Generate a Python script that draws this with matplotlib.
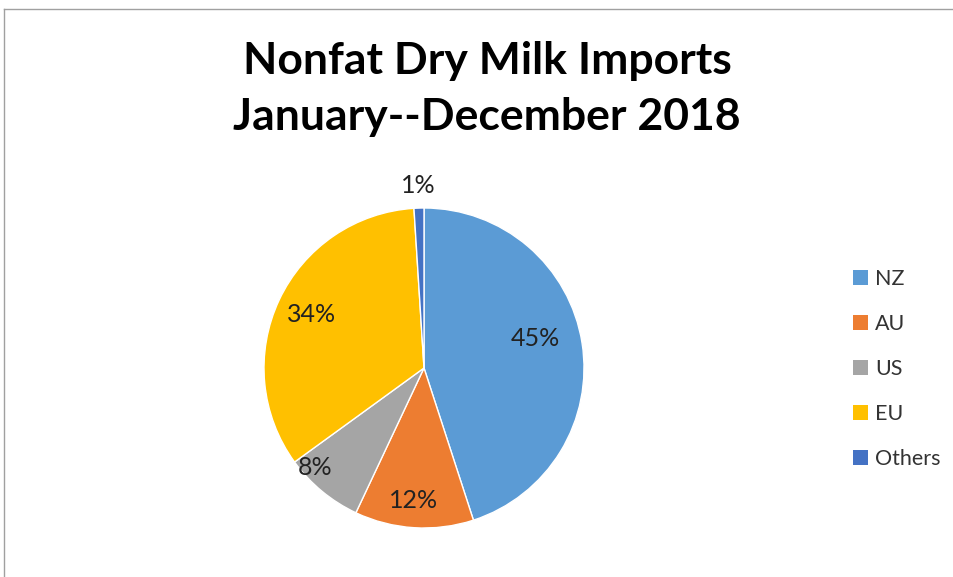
import numpy as np
import matplotlib.pyplot as plt
from matplotlib.patches import Patch
from matplotlib.lines import Line2D

regions = ["NZ", "AU", "US", "EU", "Others"]
shares = [45, 12, 8, 34, 1]
colors = ["#5B9BD5", "#ED7D31", "#A5A5A5", "#FFC000", "#4472C4"]
# percent label placement: fraction of radius, and nudge (deg) off the wedge middle
label_dist = [0.72, 0.83, 0.92, 0.78, 1.14]
label_turn = [6, -1, -8, 0, 0]

W, H = 954, 577
fig = plt.figure(figsize=(W / 100, H / 100), dpi=100)
fig.patch.set_facecolor("white")

# pie centre and radius in pixels
cx, cy, r = 424, 368, 160
ax = fig.add_axes([(cx - r) / W, (H - cy - r) / H, 2 * r / W, 2 * r / H])

wedges, _ = ax.pie(shares, colors=colors, startangle=90, counterclock=False,
                   radius=1, wedgeprops=dict(edgecolor="white", linewidth=1))
ax.set_xlim(-1, 1)
ax.set_ylim(-1, 1)

for w, d, t, s in zip(wedges, label_dist, label_turn, shares):
    ang = np.deg2rad((w.theta1 + w.theta2) / 2 + t)
    ax.text(d * np.cos(ang), d * np.sin(ang), f"{s}%", ha="center", va="center",
            fontsize=18, family="Lato", color="#222222")

fig.text(487 / W, 1 - 61 / H, "Nonfat Dry Milk Imports", ha="center", va="center",
         fontsize=32, fontweight="bold", family="Lato")
fig.text(487 / W, 1 - 117 / H, "January--December 2018", ha="center", va="center",
         fontsize=32, fontweight="bold", family="Lato")

handles = [Patch(facecolor=c, edgecolor="none") for c in colors]
leg = fig.legend(handles, regions, loc="center left", bbox_to_anchor=(834 / W, 1 - 369 / H),
                 frameon=False, handlelength=0.7, handleheight=0.7, handletextpad=0.3,
                 labelspacing=1.17, prop=dict(family="Lato", size=15.5))
for t in leg.get_texts():
    t.set_color("#333333")

# outer chart frame (top and left visible)
fig.add_artist(Line2D([4 / W, 1], [1 - 9 / H, 1 - 9 / H], color="#a0a0a0", lw=1))
fig.add_artist(Line2D([4 / W, 4 / W], [0, 1 - 9 / H], color="#a0a0a0", lw=1))

fig.savefig("out.png", dpi=100)
